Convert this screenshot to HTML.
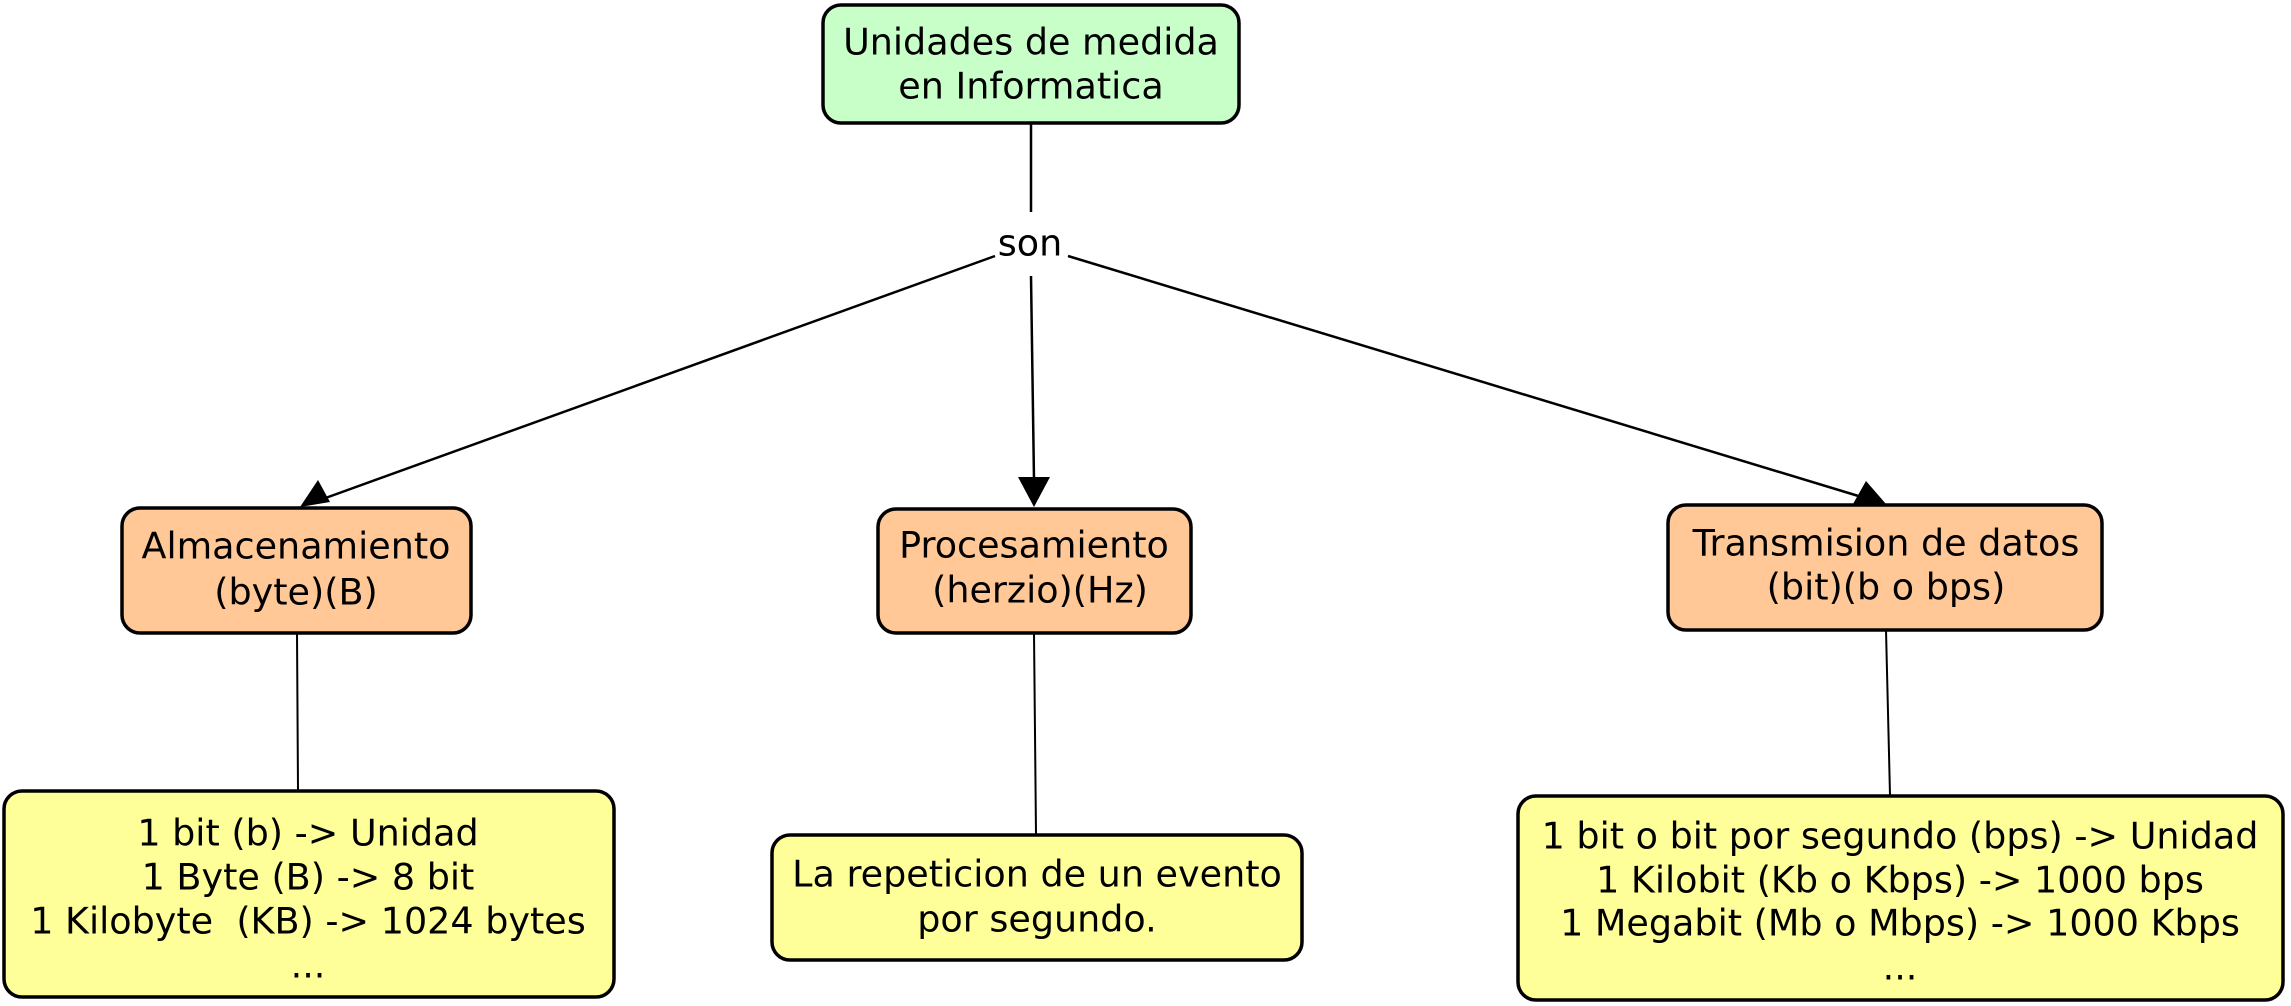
<!DOCTYPE html>
<html><head><meta charset="utf-8"><style>
html,body{margin:0;padding:0;background:#fff;}
svg{display:block;}
text{font-family:"DejaVu Sans","Liberation Sans",sans-serif;font-size:36.5px;fill:#000;text-anchor:middle;dominant-baseline:central;}
</style></head><body>
<svg width="2291" height="1006" viewBox="0 0 2291 1006" xmlns="http://www.w3.org/2000/svg">
<g stroke="#000" stroke-width="2.5" fill="none">
<line x1="1031" y1="123" x2="1031" y2="212"/>
<line x1="995" y1="256" x2="320" y2="500"/>
<line x1="1031" y1="276" x2="1034" y2="480"/>
<line x1="1068" y1="256" x2="1865" y2="498"/>
<line x1="297" y1="633" x2="298" y2="790" stroke-width="2"/>
<line x1="1034" y1="633" x2="1036" y2="834" stroke-width="2"/>
<line x1="1886" y1="630" x2="1890" y2="795" stroke-width="2"/>
</g>
<polygon points="300,507 318,480 330,502" fill="#000"/>
<polygon points="1034,507 1018,477 1050,477" fill="#000"/>
<polygon points="1886,504 1853,504 1866,481" fill="#000"/>
<g stroke="#000" stroke-width="3.5">
<rect x="823" y="5" width="416" height="118" rx="18" fill="#c8ffc8"/>
<rect x="122" y="508" width="349" height="125" rx="18" fill="#ffc896"/>
<rect x="878" y="509" width="313" height="124" rx="18" fill="#ffc896"/>
<rect x="1668" y="505" width="434" height="125" rx="18" fill="#ffc896"/>
<rect x="4" y="791" width="610" height="206" rx="18" fill="#ffff99"/>
<rect x="772" y="835" width="530" height="125" rx="18" fill="#ffff99"/>
<rect x="1518" y="796" width="765" height="204" rx="18" fill="#ffff99"/>
</g>
<text x="1031" y="42">Unidades de medida</text>
<text x="1031" y="86">en Informatica</text>
<text x="1030" y="243">son</text>
<text x="296" y="546">Almacenamiento</text>
<text x="296" y="592">(byte)(B)</text>
<text x="1034" y="545">Procesamiento</text>
<text x="1040" y="590">(herzio)(Hz)</text>
<text x="1886" y="543">Transmision de datos</text>
<text x="1886" y="587">(bit)(b o bps)</text>
<text x="308" y="833">1 bit (b) -&gt; Unidad</text>
<text x="308" y="877">1 Byte (B) -&gt; 8 bit</text>
<text x="308" y="921" style="white-space:pre">1 Kilobyte  (KB) -&gt; 1024 bytes</text>
<text x="308" y="965">...</text>
<text x="1037" y="874">La repeticion de un evento</text>
<text x="1037" y="919">por segundo.</text>
<text x="1900" y="836">1 bit o bit por segundo (bps) -&gt; Unidad</text>
<text x="1900" y="880">1 Kilobit (Kb o Kbps) -&gt; 1000 bps</text>
<text x="1900" y="923">1 Megabit (Mb o Mbps) -&gt; 1000 Kbps</text>
<text x="1900" y="967">...</text>
</svg>
</body></html>
